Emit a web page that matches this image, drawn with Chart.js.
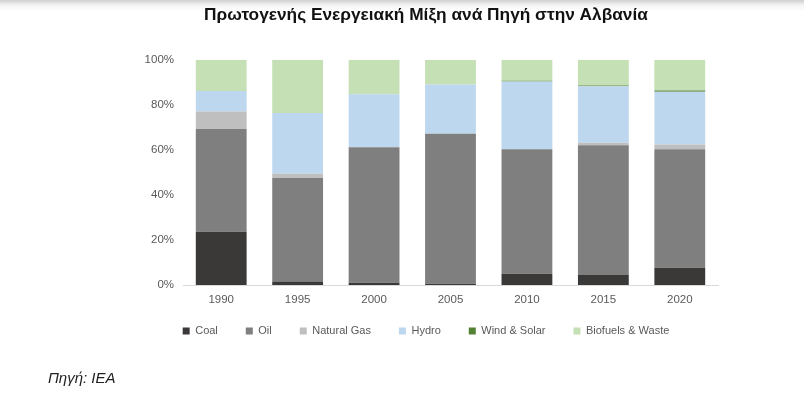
<!DOCTYPE html>
<html>
<head>
<meta charset="utf-8">
<script src="https://cdn.jsdelivr.net/npm/chart.js@4"></script>
<style>
  html, body { margin: 0; padding: 0; background: #fff; }
  #wrap { position: relative; width: 804px; height: 393px; overflow: hidden;
          background: linear-gradient(#cfcfcf 0px, #f3f3f3 5px, #ffffff 11px); }
  #c { position: absolute; left: 0; top: 0; }
  #src { position: absolute; left: 48px; top: 369px; font: italic 15px "Liberation Sans", Arial, sans-serif; color: #222; }
</style>
</head>
<body>
<div id="wrap">
  <canvas id="c" width="804" height="393"></canvas>
  <div id="src">Πηγή: IEA</div>
</div>
<script>
// Δεδομένα (% της πρωτογενούς ενέργειας)
const years = ["1990", "1995", "2000", "2005", "2010", "2015", "2020"];
const coal     = [23.6, 1.5, 1.0, 0.5, 5.0, 4.4, 7.7];
const oil      = [45.7, 46.0, 60.2, 66.6, 55.3, 57.7, 52.6];
const gas      = [7.7, 1.9, 0, 0, 0, 1.0, 2.1];
const hydro    = [9.1, 27.0, 23.5, 21.9, 30.0, 25.1, 23.4];
const windSolar = [0, 0, 0, 0, 0.4, 0.4, 0.6];
const biofuels = [13.9, 23.6, 15.3, 11.0, 9.3, 11.4, 13.6];
const yStep = 20;

const COLORS = {
  coal: "#3b3838",
  oil: "#7f7f7f",
  gas: "#bfbfbf",
  hydro: "#bdd7ee",
  wind: "#548235",
  bio: "#c5e0b4"
};

const FONT = "'Liberation Sans', Arial, sans-serif";
const TXT = "#595959";

function ds(label, data, color) {
  return { label, data, backgroundColor: color, borderWidth: 0,
           barPercentage: 0.665, categoryPercentage: 1 };
}

new Chart(document.getElementById("c"), {
  type: "bar",
  data: {
    labels: years,
    datasets: [
      ds("Coal", coal, COLORS.coal),
      ds("Oil", oil, COLORS.oil),
      ds("Natural Gas", gas, COLORS.gas),
      ds("Hydro", hydro, COLORS.hydro),
      ds("Wind & Solar", windSolar, COLORS.wind),
      ds("Biofuels & Waste", biofuels, COLORS.bio)
    ]
  },
  options: {
    responsive: false,
    animation: false,
    layout: { padding: { left: 134, right: 86, top: 0, bottom: 46.5 } },
    plugins: {
      title: {
        display: true,
        text: "Πρωτογενής Ενεργειακή Μίξη ανά Πηγή στην Αλβανία",
        color: "#111",
        font: { family: FONT, size: 17.3, weight: "bold" },
        padding: { top: 5, bottom: 34 }
      },
      legend: {
        position: "bottom",
        align: "center",
        labels: {
          boxWidth: 7, boxHeight: 7, padding: 28,
          color: TXT, font: { family: FONT, size: 11 }
        }
      },
      tooltip: { enabled: false }
    },
    scales: {
      x: {
        stacked: true,
        grid: { display: false },
        border: { color: "#d9d9d9" },
        // mirror evita το κόψιμο των ετικετών, padding αρνητικό = κάτω από τον άξονα
        ticks: { mirror: true, padding: -22, color: TXT, font: { family: FONT, size: 11.5 } },
        afterFit(s) { s.height = 12.5; }
      },
      y: {
        stacked: true,
        min: 0, max: 100,
        grid: { display: false },
        border: { display: false },
        ticks: { stepSize: yStep, color: TXT, font: { family: FONT, size: 11.5 }, padding: 1,
                 callback: v => v + "%" },
        afterFit(s) { s.width = 49; }
      }
    }
  }
});
</script>
</body>
</html>
